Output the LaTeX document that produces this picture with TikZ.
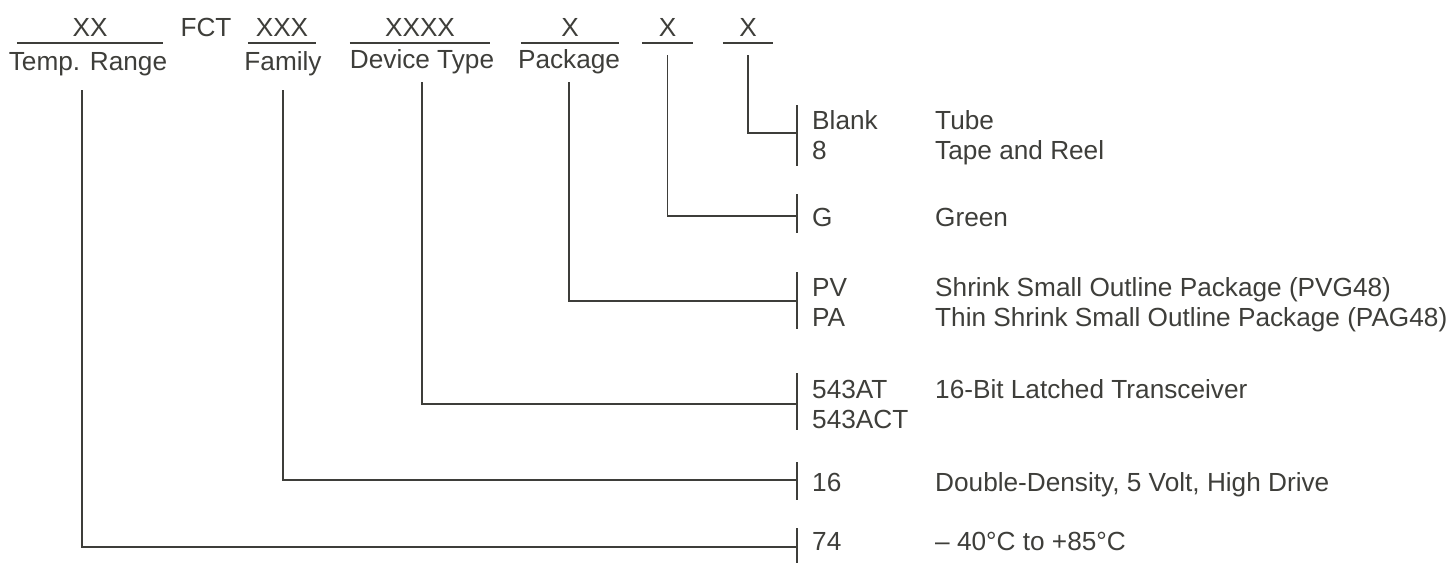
\documentclass[tikz,border=0pt]{standalone}
\usepackage{fontspec}
\setmainfont{Liberation Sans}
\usepackage{tikz}
\usetikzlibrary{positioning}
\definecolor{InkGray}{RGB}{62,62,58}

\begin{document}
\begin{tikzpicture}[
 x=1pt, y=-1pt,
 field/.style={anchor=base, inner xsep=0pt, inner ysep=7pt, text depth=0pt},
 fixed/.style={anchor=base, inner sep=0pt},
 lbl/.style={anchor=base, inner sep=0pt},
 code/.style={anchor=base west, inner sep=0pt},
 desc/.style={anchor=base west, inner sep=0pt},
 uline/.style={draw=InkGray, line width=1.5pt},
 link/.style={draw=InkGray, line width=1.5pt},
 bar/.style={draw=InkGray, line width=1.5pt},
 font=\fontsize{26.2}{30}\selectfont,
 text=InkGray
]
\useasboundingbox (0,0) rectangle (1447,563);

% part number fields
\node[field, minimum width=146] (xx) at (90,36) {XX};
\node[fixed] (fct) at (206,36) {FCT};
\node[field, minimum width=68] (xxx) at (282,36) {XXX};
\node[field, minimum width=140] (xxxx) at (420,36) {XXXX};
\node[field, minimum width=98] (pkg) at (570,36) {X};
\node[field, minimum width=51] (grn) at (667.5,36) {X};
\node[field, minimum width=50] (tr) at (748,36) {X};
\foreach \f in {xx,xxx,xxxx,pkg,grn,tr}
  \draw[uline] (\f.south west) -- (\f.south east);

\node[lbl] (temp) at (88,70) {Temp. Range};
\node[lbl] (fam) at (283,70) {Family};
\node[lbl] (dev) at (422,68) {Device Type};
\node[lbl] (pack) at (569,68) {Package};

% option rows
\coordinate (trow) at (797,133);
\coordinate (grow) at (797,216);
\coordinate (prow) at (797,301);
\coordinate (drow) at (797,404);
\coordinate (frow) at (797,480);
\coordinate (rrow) at (797,547);

\draw[bar] (797,105) -- (797,166);
\draw[bar] (797,194) -- (797,233);
\draw[bar] (797,272) -- (797,329);
\draw[bar] (797,373) -- (797,430);
\draw[bar] (797,462) -- (797,500);
\draw[bar] (797,528) -- (797,563);

\draw[link, shorten <=12pt] (tr.south) |- (trow);
\draw[link, shorten <=12pt] (grn.south) |- (grow);
\draw[link, shorten <=8.4pt] (pack.south) |- (prow);
\draw[link, shorten <=8.4pt] (dev.south) |- (drow);
\draw[link, shorten <=14.4pt] (fam.south) |- (frow);
\draw[link, shorten <=14.4pt] ([xshift=-6pt]temp.south) |- (rrow);

\node[code] (blank) at (812,129) {Blank};
\node[code] (eight) at (812,159) {8};
\node[desc] (tube) at (935,129) {Tube};
\node[desc] (reel) at (935,159) {Tape and Reel};

\node[code] (g) at (812,226) {G};
\node[desc] (green) at (935,226) {Green};

\node[code] (pv) at (812,296) {PV};
\node[code] (pa) at (812,326) {PA};
\node[desc] (ssop) at (935,296) {Shrink Small Outline Package (PVG48)};
\node[desc] (tssop) at (935,326) {Thin Shrink Small Outline Package (PAG48)};

\node[code] (at) at (812,398) {543AT};
\node[code] (act) at (812,428) {543ACT};
\node[desc] (latch) at (935,398) {16-Bit Latched Transceiver};

\node[code] (sixteen) at (812,491) {16};
\node[desc] (dd) at (935,491) {Double-Density, 5 Volt, High Drive};

\node[code] (sevfour) at (812,550) {74};
\node[desc] (range) at (935,550) {– 40°C to +85°C};
\end{tikzpicture}
\end{document}
